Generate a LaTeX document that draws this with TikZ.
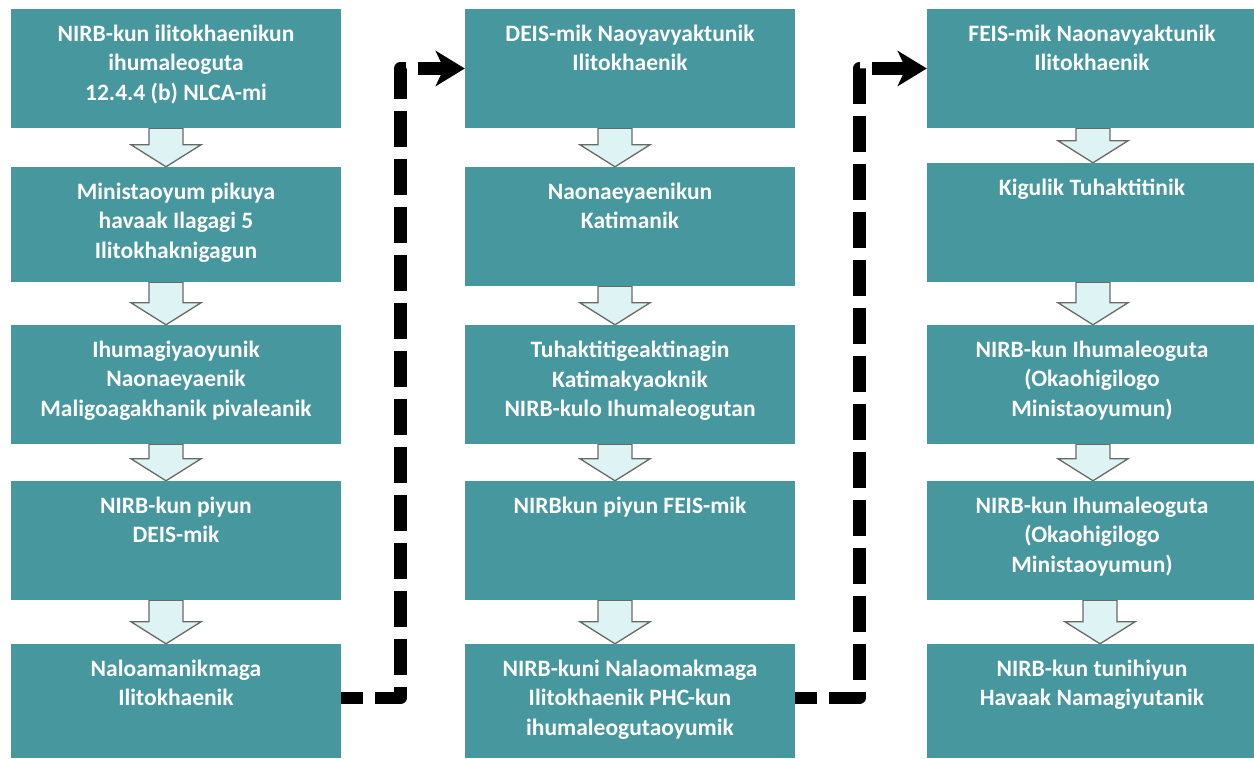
\documentclass[tikz,border=0pt]{standalone}
\usepackage{fontspec}
\setmainfont{Carlito}
\usetikzlibrary{arrows.meta,calc,backgrounds}
\definecolor{boxteal}{RGB}{70,151,158}
\definecolor{arrowfill}{RGB}{222,243,243}
\definecolor{arrowedge}{RGB}{105,105,105}
\tikzset{
  box/.style={rectangle,fill=boxteal,draw=none,inner sep=0pt},
  boxtext/.style={text=white,font=\bfseries\fontsize{23.5}{29.5}\selectfont,align=center,inner sep=0pt,anchor=north},
  darrow/.style={fill=arrowfill,draw=arrowedge,line width=1.3pt,line join=miter},
  conn/.style={draw=black,line width=12.7pt,line join=round,dash pattern=on 36pt off 12pt,dash phase=14pt,
    -{Stealth[length=29pt,width=35pt,inset=8pt]}}
}
% name, x1, y1(top px), x2, y2(bottom px), text
\newcommand{\mkbox}[6]{%
  \node[box,minimum width={(#4-#2)*1pt},minimum height={(#5-#3)*1pt}] (#1) at ({(#2+#4)/2},{759-(#3+#5)/2}) {};
  \node[boxtext] (#1t) at ([yshift=-16pt]#1.north) {\rule{0pt}{16pt}#6};
}
% src, tgt, x
\newcommand{\mkdarrow}[3]{%
  \draw[darrow] let \p1=(#1.south), \p2=(#2.north) in
    ({(#3-17)*1pt},\y1) -- ({(#3+17)*1pt},\y1) -- ({(#3+17)*1pt},\y2+22pt) -- ({(#3+35)*1pt},\y2+22pt)
    -- ({#3*1pt},\y2) -- ({(#3-35)*1pt},\y2+22pt) -- ({(#3-17)*1pt},\y2+22pt) -- cycle;
}
\begin{document}
\begin{tikzpicture}[x=1pt,y=1pt]
\useasboundingbox (0,0) rectangle (1254,759);
\mkbox{a1}{11}{9}{341}{128}{NIRB-kun ilitokhaenikun\\ihumaleoguta\\12.4.4 (b) NLCA-mi}
\mkbox{a2}{11}{167}{341}{282}{Ministaoyum pikuya\\havaak Ilagagi 5\\Ilitokhaknigagun}
\mkbox{a3}{11}{325}{341}{444}{Ihumagiyaoyunik\\Naonaeyaenik\\Maligoagakhanik pivaleanik}
\mkbox{a4}{11}{481}{341}{600}{NIRB-kun piyun\\DEIS-mik}
\mkbox{a5}{11}{644}{341}{758}{Naloamanikmaga\\Ilitokhaenik}
\mkbox{b1}{465}{9}{795}{128}{DEIS-mik Naoyavyaktunik\\Ilitokhaenik}
\mkbox{b2}{465}{167}{795}{286}{Naonaeyaenikun\\Katimanik}
\mkbox{b3}{465}{325}{795}{444}{Tuhaktitigeaktinagin\\Katimakyaoknik\\NIRB-kulo Ihumaleogutan}
\mkbox{b4}{465}{481}{795}{600}{NIRBkun piyun FEIS-mik}
\mkbox{b5}{465}{644}{795}{758}{NIRB-kuni Nalaomakmaga\\Ilitokhaenik PHC-kun\\ihumaleogutaoyumik}
\mkbox{c1}{927}{9}{1257}{128}{FEIS-mik Naonavyaktunik\\Ilitokhaenik}
\mkbox{c2}{927}{163}{1257}{282}{Kigulik Tuhaktitinik}
\mkbox{c3}{927}{325}{1257}{444}{NIRB-kun Ihumaleoguta\\(Okaohigilogo\\Ministaoyumun)}
\mkbox{c4}{927}{481}{1257}{600}{NIRB-kun Ihumaleoguta\\(Okaohigilogo\\Ministaoyumun)}
\mkbox{c5}{927}{644}{1257}{758}{NIRB-kun tunihiyun\\Havaak Namagiyutanik}
% down arrows, behind the boxes
\begin{scope}[on background layer]
\mkdarrow{a1}{a2}{166}
\mkdarrow{a2}{a3}{166}
\mkdarrow{a3}{a4}{166}
\mkdarrow{a4}{a5}{166}
\mkdarrow{b1}{b2}{615}
\mkdarrow{b2}{b3}{615}
\mkdarrow{b3}{b4}{615}
\mkdarrow{b4}{b5}{615}
\mkdarrow{c1}{c2}{1093}
\mkdarrow{c2}{c3}{1093}
\mkdarrow{c3}{c4}{1093}
\mkdarrow{c4}{c5}{1100}
\end{scope}
% dashed connectors
\draw[conn] ([yshift=3pt]a5.east) -- ++(59,0) |- (b1.west);
\draw[conn] ([yshift=3pt]b5.east) -- ++(64,0) |- (c1.west);
\end{tikzpicture}
\end{document}
